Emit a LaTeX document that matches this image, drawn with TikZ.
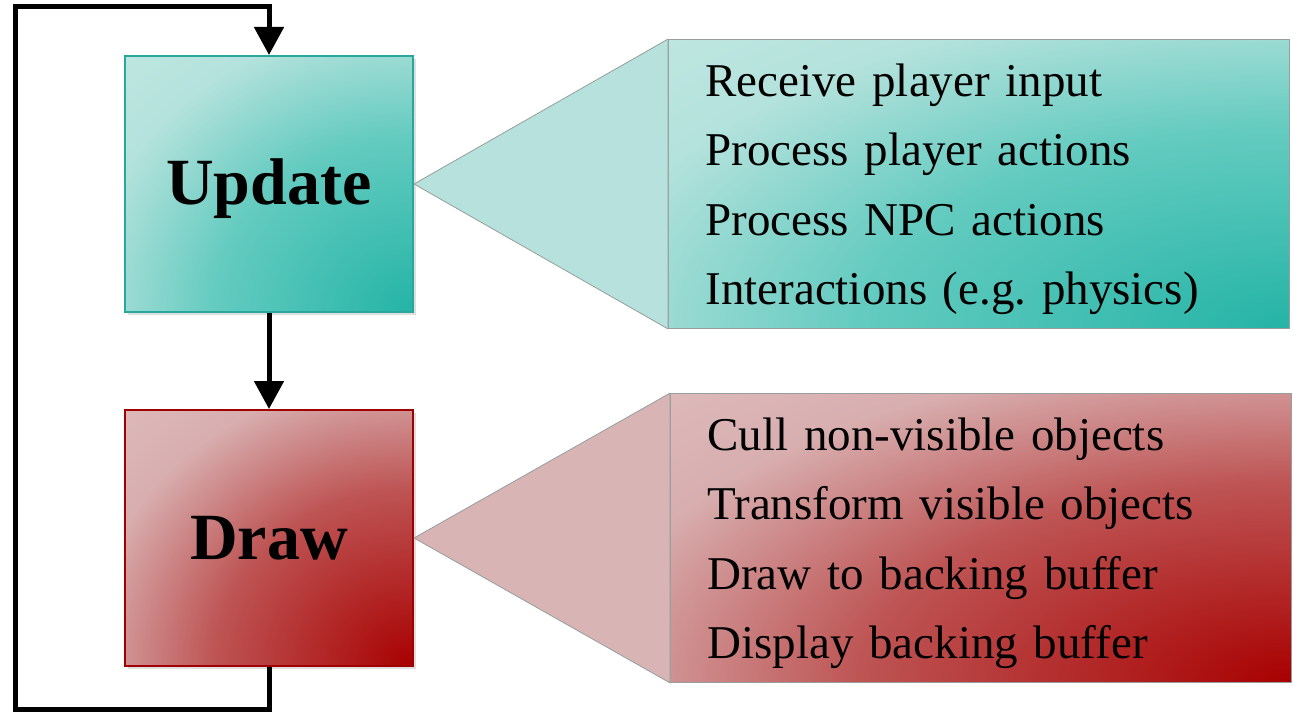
\documentclass[tikz,border=0pt]{standalone}
\usepackage{fontspec}
\setmainfont{Liberation Serif}
\usetikzlibrary{positioning,arrows.meta,shadows}
\definecolor{tealdark}{RGB}{36,180,166}
\definecolor{tealmid}{RGB}{100,203,192}
\definecolor{teallight}{RGB}{180,226,220}
\definecolor{tealedge}{RGB}{40,168,156}
\definecolor{reddark}{RGB}{168,0,0}
\definecolor{redmid}{RGB}{190,84,84}
\definecolor{redlight}{RGB}{216,174,175}
\definecolor{rededge}{RGB}{160,0,0}
\definecolor{tealcone}{RGB}{183,225,220}
\definecolor{redcone}{RGB}{216,180,181}
\definecolor{coneedge}{RGB}{150,158,158}
\pgfdeclareradialshading{tealglow}{\pgfpoint{0bp}{0bp}}{color(0bp)=(tealdark); color(11.5bp)=(tealmid); color(19bp)=(teallight); color(24bp)=(teallight!85!white); color(50bp)=(teallight!85!white)}
\pgfdeclareradialshading{redglow}{\pgfpoint{0bp}{0bp}}{color(0bp)=(reddark); color(11.5bp)=(redmid); color(19bp)=(redlight); color(24bp)=(redlight!85!white); color(50bp)=(redlight!85!white)}

\begin{document}
\begin{tikzpicture}[
    x=1pt, y=-1pt,
    node distance=96pt,
    glow/.style n args={3}{path picture={\shade[shading=#1] (path picture bounding box.south east) ellipse [x radius=#2, y radius=#3];}},
    stage/.style={rectangle, draw, line width=2pt, minimum width=288pt, minimum height=256pt, text height=42pt, text depth=0pt, font=\fontsize{66}{70}\selectfont\bfseries, drop shadow={opacity=0.25, shadow xshift=3pt, shadow yshift=-3pt}},
    info/.style={rectangle, draw=coneedge, line width=0.8pt, minimum height=289pt, text width=547pt, inner xsep=37pt, align=left, font=\fontsize{47}{69.5}\selectfont\frenchspacing, execute at begin node={\rule{0pt}{43pt}}},
    cone/.style={draw=coneedge, line width=0.8pt, line join=round},
    flow/.style={-{Triangle[length=28pt, width=29pt]}, line width=5pt}
]
\useasboundingbox (0,0) rectangle (1293,714);

\node[stage, draw=tealedge, glow={tealglow}{432pt}{384pt}] (upd) at (269,184) {Update};
\node[stage, draw=rededge, glow={redglow}{432pt}{384pt}, below=96pt of upd] (drw) {Draw};

\node[info, glow={tealglow}{936pt}{434pt}, right=254pt of upd] (updinfo) {Receive player input\\Process player actions\\Process NPC actions\\Interactions (e.g. physics)};
\node[info, glow={redglow}{936pt}{434pt}, right=256pt of drw] (drwinfo) {Cull non-visible objects\\Transform visible objects\\Draw to backing buffer\\Display backing buffer};

\draw[cone, fill=tealcone] (upd.east) -- (updinfo.north west) -- (updinfo.south west) -- cycle;
\draw[cone, fill=redcone] (drw.east) -- (drwinfo.north west) -- (drwinfo.south west) -- cycle;

\coordinate (lowleft) at (15,709);
\coordinate (topleft) at (15,7);
\draw[flow] (upd) -- (drw);
\draw[flow, line join=miter] (drw.south) |- (lowleft) -- (topleft) -| (upd.north);
\end{tikzpicture}
\end{document}
